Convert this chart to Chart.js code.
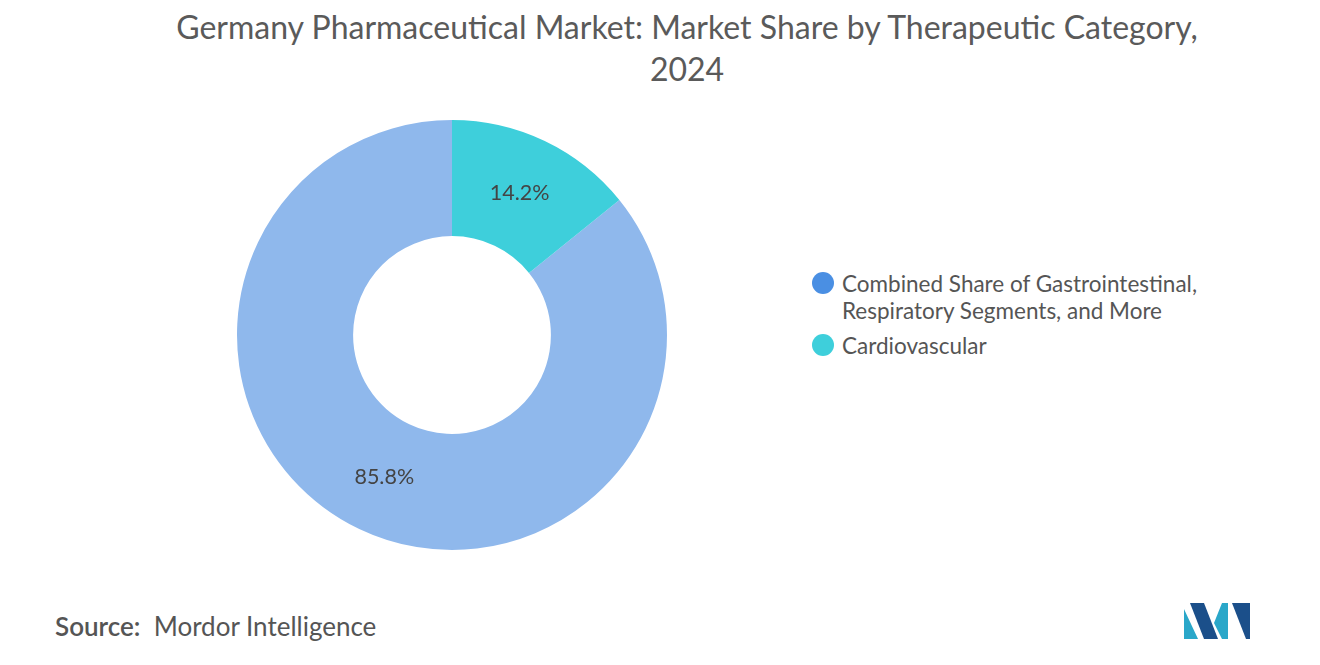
<!DOCTYPE html>
<html>
<head>
<meta charset="utf-8">
<script src="https://cdn.jsdelivr.net/npm/chart.js@4"></script>
<style>
  body { margin: 0; width: 1320px; height: 665px; background: #fff; font-family: Lato, sans-serif; position: relative; overflow: hidden; }
  #title { position: absolute; top: 6px; left: 0; width: 1374px; text-align: center; font-size: 32px; color: #5a5a5a; line-height: 42px; }
  #wrap { position: absolute; left: 227px; top: 110px; width: 450px; height: 450px; }
  #legend { position: absolute; left: 812px; top: 270px; font-size: 22.5px; color: #555; line-height: 27px; }
  .item { display: flex; align-items: flex-start; margin-bottom: 8px; }
  .dot { width: 22px; height: 22px; border-radius: 50%; margin: 2px 8px 0 0; flex: none; }
  #source { position: absolute; left: 55px; top: 610px; font-size: 26px; color: #555; }
  #logo { position: absolute; left: 1184px; top: 603px; }
</style>
</head>
<body>
<div id="title">Germany Pharmaceutical Market: Market Share by Therapeutic Category,<br>2024</div>
<div id="wrap"><canvas id="pie"></canvas></div>
<div id="legend"></div>
<div id="source"><b style="font-weight:600">Source:</b>&nbsp; Mordor Intelligence</div>
<svg id="logo" width="66" height="36" viewBox="0 0 66 36">
  <polygon points="0,36 0,6 14,36" fill="#2aa7c9"/>
  <polygon points="6,0 20,0 34,36 20,36" fill="#1b4f8a"/>
  <polygon points="30,20 38,0 44,0 44,36 38,36" fill="#2aa7c9"/>
  <polygon points="48,0 66,0 66,36 62,36" fill="#1b4f8a"/>
</svg>
<script>
const categories = ['Combined Share of Gastrointestinal, Respiratory Segments, and More', 'Cardiovascular'];
const legendLines = [['Combined Share of Gastrointestinal,', 'Respiratory Segments, and More'], ['Cardiovascular']];
const shares = [85.8, 14.2];
const sliceColors = ['#8fb8ec', '#3ecfdb'];
const legendColors = ['#4a8fe3', '#3ecfdb'];

document.getElementById('legend').innerHTML = legendLines.map((l, i) =>
  `<div class="item"><span class="dot" style="background:${legendColors[i]}"></span><span>${l.join('<br>')}</span></div>`).join('');

const labelPlugin = {
  id: 'sliceLabels',
  afterDatasetsDraw(chart) {
    const ctx = chart.ctx;
    chart.getDatasetMeta(0).data.forEach((arc, i) => {
      const p = arc.tooltipPosition();
      ctx.save();
      ctx.font = '21.5px Lato';
      ctx.fillStyle = '#444';
      ctx.textAlign = 'center';
      ctx.textBaseline = 'middle';
      ctx.fillText(shares[i].toFixed(1) + '%', p.x, p.y);
      ctx.restore();
    });
  }
};

new Chart(document.getElementById('pie'), {
  type: 'doughnut',
  data: {
    labels: categories,
    datasets: [{ data: shares, backgroundColor: sliceColors, borderWidth: 0 }]
  },
  options: {
    responsive: true,
    maintainAspectRatio: false,
    animation: false,
    cutout: '46%',
    rotation: shares[1] / 100 * 360,
    layout: { padding: 10 },
    plugins: { legend: { display: false }, tooltip: { enabled: false } }
  },
  plugins: [labelPlugin]
});
</script>
</body>
</html>
